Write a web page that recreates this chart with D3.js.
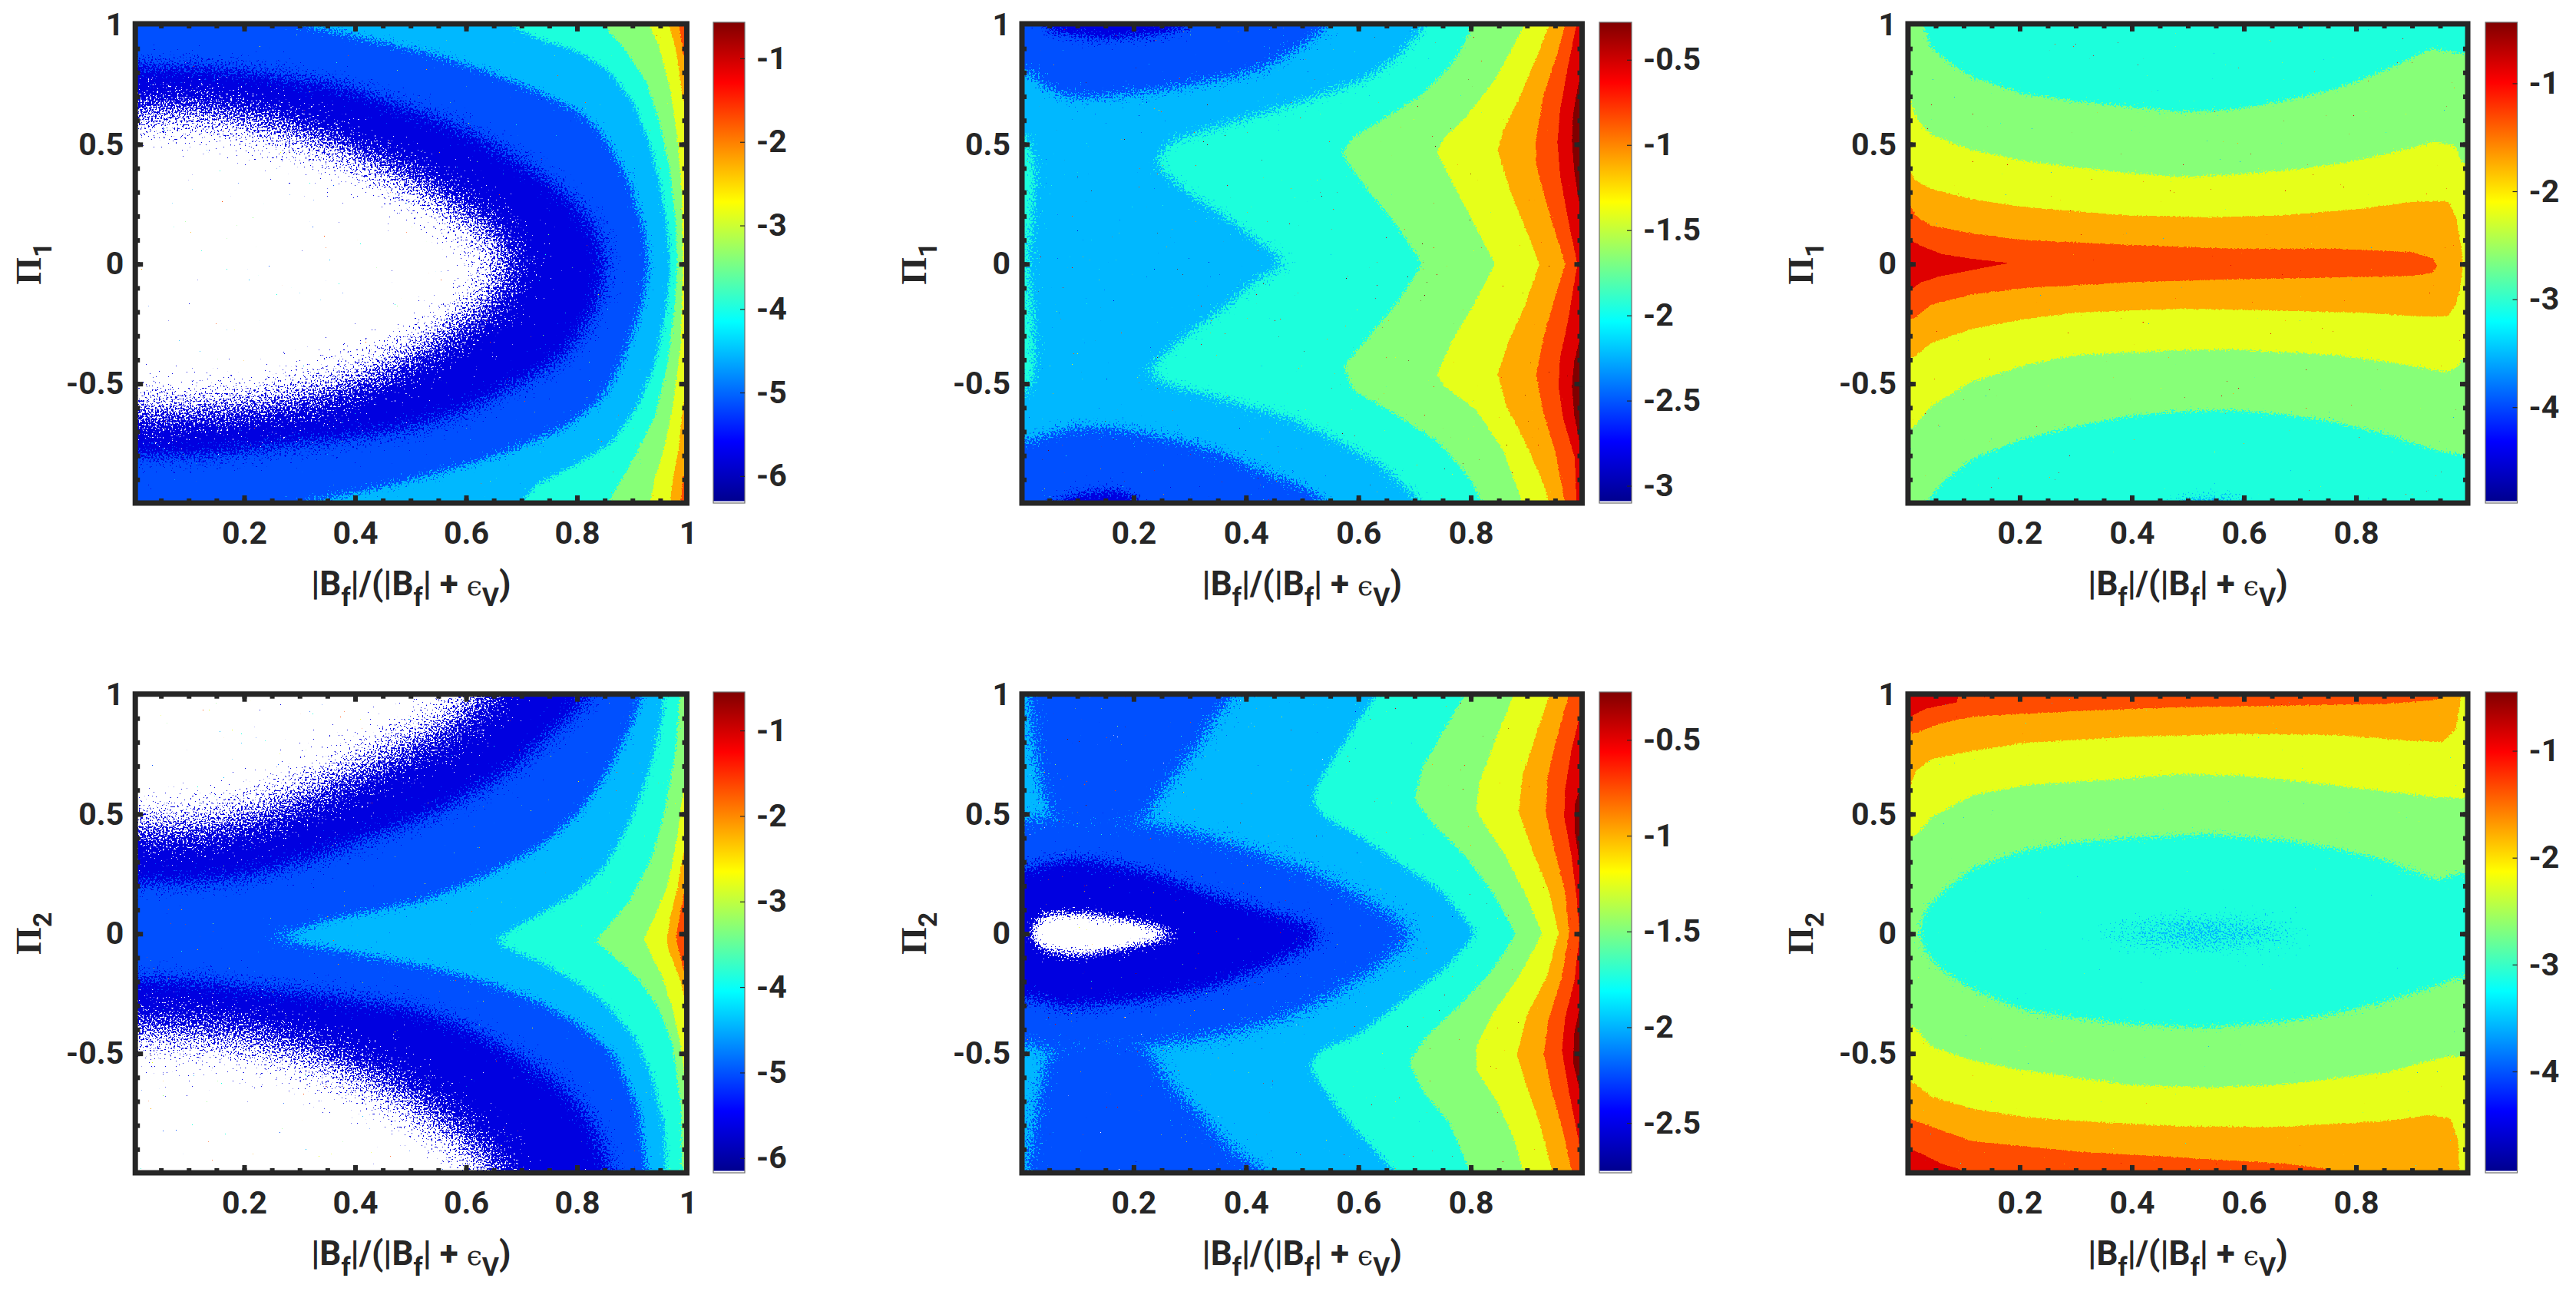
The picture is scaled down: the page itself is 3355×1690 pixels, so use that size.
<!DOCTYPE html>
<html>
<head>
<meta charset="utf-8">
<style>
  html, body { margin:0; background:#fff; }
  svg { display:block; }
  text { font-family:Roboto, "Liberation Sans", sans-serif; font-weight:700; fill:#262626; }
</style>
<script src="https://cdn.jsdelivr.net/npm/d3@7"></script>
</head>
<body>
<svg id="chart" width="3355" height="1690"></svg>
<script>
// --- data: band outlines, as [|Bf|/(|Bf|+eV), Pi] ---------------------------
// "hull" outlines enclose everything to the right of the curve (or around it),
// "blob" outlines are plain closed shapes.
const panelA = [
  {band:'dark', kind:'hull', pts:[[-.1,.63],[.146,.64],[.29,.56],[.39,.47],[.487,.37],[.584,.24],[.66,.11],[.72,0],[.66,-.13],[.584,-.27],[.487,-.41],[.39,-.51],[.29,-.57],[.146,-.61],[-.1,-.64]]},
  {band:'blue', kind:'hull', pts:[[-.1,.85],[.146,.82],[.29,.78],[.39,.74],[.487,.66],[.584,.58],[.68,.46],[.78,.30],[.837,.15],[.856,0],[.837,-.19],[.78,-.39],[.68,-.525],[.584,-.63],[.487,-.695],[.39,-.73],[.29,-.755],[.146,-.80],[-.1,-.82]]},
  {band:'sky', kind:'hull', pts:[[.30,1],[.44,.93],[.535,.88],[.63,.81],[.73,.72],[.81,.63],[.856,.51],[.895,.34],[.92,.15],[.93,0],[.915,-.19],[.885,-.39],[.847,-.56],[.78,-.68],[.68,-.78],[.584,-.85],[.487,-.91],[.39,-.96],[.30,-1]]},
  {band:'teal', kind:'hull', pts:[[.677,1],[.73,.94],[.80,.89],[.856,.81],[.90,.68],[.93,.51],[.949,.34],[.963,.15],[.968,0],[.96,-.2],[.94,-.42],[.91,-.59],[.861,-.75],[.788,-.85],[.73,-.915],[.696,-1]]},
  {band:'green', kind:'hull', pts:[[.847,1],[.885,.90],[.925,.76],[.949,.59],[.968,.39],[.978,.17],[.981,0],[.975,-.2],[.963,-.42],[.94,-.64],[.905,-.80],[.856,-1]]},
  {band:'yellow', kind:'hull', pts:[[.93,1],[.949,.90],[.968,.73],[.981,.53],[.989,.29],[.991,0],[.987,-.34],[.973,-.59],[.958,-.76],[.94,-.9],[.931,-1]]},
  {band:'orange', kind:'hull', pts:[[.965,1],[.978,.9],[.991,.69],[1.03,.5],[1.03,-.4],[.991,-.59],[.984,-.76],[.973,-.9],[.968,-1]]},
  {band:'flame', kind:'hull', pts:[[.984,1],[.991,.88],[1.03,.7],[1.03,-.65],[.991,-.89],[.987,-1]]}
];

const panelB = [
  {band:'blue', kind:'blob', pts:[[.6,1.1],[.55,1],[.503,.915],[.426,.81],[.33,.76],[.234,.72],[.138,.695],[.08,.695],[.042,.737],[.013,.81],[-.1,.85],[-.1,1.1]]},
  {band:'dark', kind:'blob', pts:[[.03,1.1],[.03,1],[.06,.965],[.15,.94],[.25,.96],[.31,1],[.31,1.1]]},
  {band:'blue', kind:'blob', pts:[[-.1,-.81],[.03,-.73],[.08,-.686],[.138,-.68],[.205,-.70],[.28,-.737],[.35,-.78],[.426,-.864],[.503,-.93],[.55,-1],[.6,-1.1],[-.1,-1.1]]},
  {band:'dark', kind:'blob', pts:[[.05,-1.1],[.05,-1],[.1,-.96],[.17,-.94],[.2,-.97],[.22,-1],[.22,-1.1]]},
  {band:'teal', kind:'blob', pts:[[-.1,.6],[.01,.55],[.025,.4],[.02,.2],[.012,0],[.02,-.2],[.025,-.45],[.01,-.55],[-.1,-.6]]},
  {band:'teal', kind:'hull', pts:[[.723,1],[.676,.88],[.618,.78],[.522,.695],[.426,.627],[.33,.56],[.263,.51],[.234,.42],[.30,.29],[.368,.19],[.426,.085],[.484,0],[.426,-.05],[.368,-.17],[.32,-.25],[.272,-.34],[.215,-.46],[.27,-.51],[.378,-.576],[.474,-.64],[.57,-.746],[.647,-.85],[.714,-1]]},
  {band:'green', kind:'hull', pts:[[.805,1],[.772,.85],[.714,.71],[.647,.61],[.589,.525],[.57,.46],[.618,.305],[.666,.17],[.714,0],[.666,-.17],[.618,-.305],[.575,-.424],[.589,-.525],[.666,-.627],[.743,-.746],[.80,-.9],[.82,-1]]},
  {band:'yellow', kind:'hull', pts:[[.896,1],[.877,.915],[.84,.76],[.79,.61],[.752,.525],[.74,.466],[.772,.32],[.81,.15],[.843,0],[.805,-.17],[.767,-.32],[.74,-.46],[.752,-.51],[.81,-.61],[.858,-.78],[.892,-1]]},
  {band:'orange', kind:'hull', pts:[[.94,1],[.92,.88],[.887,.695],[.858,.56],[.848,.475],[.868,.32],[.897,.15],[.922,0],[.897,-.17],[.868,-.32],[.848,-.46],[.863,-.59],[.897,-.746],[.925,-.89],[.94,-1]]},
  {band:'flame', kind:'hull', pts:[[.968,1],[.954,.88],[.93,.71],[.916,.525],[.916,.42],[.93,.29],[.95,.135],[.968,0],[.95,-.135],[.93,-.305],[.916,-.46],[.93,-.627],[.95,-.78],[.968,-1]]},
  {band:'red', kind:'hull', pts:[[.988,1],[.973,.83],[.959,.644],[.954,.51],[.959,.37],[.973,.186],[.988,.017],[.99,0],[.988,-.02],[.973,-.237],[.959,-.39],[.956,-.51],[.964,-.64],[.985,-.81],[.988,-1]]},
  {band:'maroon', kind:'blob', pts:[[1.03,.8],[.992,.76],[.982,.627],[.98,.51],[.984,.39],[.995,.22],[1.03,.1],[1.03,-.15],[.995,-.305],[.984,-.407],[.98,-.51],[.984,-.63],[.995,-.76],[1.03,-.85]]}
];

const panelC = [
  {band:'green', kind:'blob', pts:[[-.1,1.1],[.028,1.1],[.028,1],[.042,.9],[.07,.85],[.116,.78],[.208,.71],[.30,.68],[.485,.635],[.577,.644],[.669,.68],[.761,.73],[.853,.81],[.936,.90],[.982,.88],[1.05,.88],[1.05,-.8],[.987,-.797],[.945,-.78],[.853,-.71],[.761,-.66],[.669,-.627],[.577,-.61],[.485,-.614],[.393,-.636],[.30,-.678],[.208,-.729],[.116,-.814],[.06,-.915],[.033,-1],[.028,-1.1],[-.1,-1.1]]},
  {band:'yellow', kind:'blob', pts:[[-.1,.72],[.004,.695],[.015,.61],[.042,.54],[.116,.475],[.208,.43],[.393,.38],[.485,.364],[.577,.373],[.669,.39],[.761,.415],[.853,.458],[.945,.514],[.978,.49],[.99,.42],[1.05,.4],[1.05,-.4],[.99,-.39],[.982,-.43],[.96,-.45],[.853,-.407],[.761,-.38],[.577,-.356],[.485,-.36],[.30,-.38],[.208,-.424],[.116,-.49],[.042,-.593],[.01,-.686],[-.1,-.72]]},
  {band:'orange', kind:'blob', pts:[[-.1,.42],[.004,.39],[.015,.347],[.042,.314],[.116,.27],[.208,.237],[.393,.203],[.53,.195],[.669,.203],[.807,.23],[.90,.26],[.964,.263],[.978,.2],[.987,.085],[.991,0],[.987,-.085],[.978,-.17],[.964,-.217],[.927,-.22],[.807,-.203],[.577,-.19],[.485,-.187],[.30,-.203],[.208,-.23],[.116,-.27],[.042,-.33],[.01,-.39],[-.1,-.42]]},
  {band:'flame', kind:'blob', pts:[[-.1,.26],[.004,.246],[.015,.2],[.042,.16],[.116,.127],[.208,.10],[.393,.08],[.577,.064],[.761,.064],[.899,.05],[.936,.025],[.945,-.008],[.936,-.037],[.899,-.05],[.761,-.056],[.577,-.064],[.393,-.076],[.208,-.10],[.116,-.127],[.042,-.17],[.01,-.23],[-.1,-.25]]},
  {band:'red', kind:'blob', pts:[[-.1,.11],[.004,.10],[.024,.076],[.06,.042],[.116,.022],[.18,.004],[.116,-.025],[.06,-.05],[.024,-.076],[.01,-.10],[-.1,-.11]]},
  {band:'sky', kind:'blob', pts:[[.47,-1.1],[.47,-.99],[.56,-.98],[.6,-.99],[.6,-1.1]]}
];

const panelD = [
  {band:'dark', kind:'blob', pts:[[-.1,.42],[.146,.44],[.244,.51],[.34,.61],[.438,.71],[.535,.83],[.613,.93],[.662,1.03],[.68,1.1],[1.1,1.1],[1.1,-1.1],[.70,-1.1],[.672,-1],[.584,-.82],[.487,-.67],[.39,-.554],[.29,-.47],[.195,-.427],[.098,-.40],[-.1,-.39]]},
  {band:'blue', kind:'blob', pts:[[-.1,.19],[.146,.215],[.244,.257],[.34,.324],[.438,.41],[.535,.49],[.633,.61],[.70,.71],[.76,.85],[.803,.93],[.837,1.03],[.85,1.1],[1.1,1.1],[1.1,-1.1],[.87,-1.1],[.861,-.98],[.837,-.81],[.78,-.64],[.68,-.486],[.584,-.368],[.487,-.30],[.39,-.267],[.29,-.24],[.195,-.216],[.098,-.19],[-.1,-.174]]},
  {band:'sky', kind:'blob', pts:[[.22,0],[.29,.012],[.36,.0625],[.438,.096],[.535,.147],[.633,.24],[.73,.358],[.80,.493],[.847,.645],[.886,.81],[.915,.966],[.92,1.1],[1.1,1.1],[1.1,-1.1],[.925,-1.1],[.925,-.98],[.91,-.72],[.866,-.50],[.808,-.385],[.73,-.284],[.633,-.2],[.535,-.14],[.438,-.098],[.36,-.064],[.29,-.04]]},
  {band:'teal', kind:'blob', pts:[[.647,-.03],[.68,.012],[.73,.08],[.788,.155],[.847,.27],[.886,.426],[.915,.578],[.94,.764],[.954,.915],[.96,1.1],[1.1,1.1],[1.1,-1.1],[.964,-1.1],[.958,-.81],[.934,-.588],[.905,-.436],[.856,-.30],[.798,-.2],[.73,-.115],[.68,-.064]]},
  {band:'green', kind:'blob', pts:[[.832,-.034],[.856,.03],[.895,.14],[.934,.31],[.958,.51],[.978,.764],[.985,.98],[.985,1.1],[1.1,1.1],[1.1,-1.1],[.994,-1.1],[.987,-.72],[.973,-.47],[.949,-.32],[.915,-.2],[.876,-.115],[.852,-.064]]},
  {band:'yellow', kind:'blob', pts:[[.92,-.02],[.94,.07],[.964,.206],[.981,.41],[.991,.595],[1.03,.8],[1.03,-.8],[.997,-.64],[.987,-.47],[.973,-.32],[.954,-.18],[.934,-.09]]},
  {band:'orange', kind:'blob', pts:[[.962,-.03],[.968,.07],[.981,.19],[.992,.34],[1.03,.5],[1.03,-.45],[.997,-.3],[.987,-.2],[.973,-.115],[.964,-.064]]},
  {band:'flame', kind:'blob', pts:[[.978,-.014],[.985,.07],[.994,.19],[1.03,.3],[1.03,-.3],[.994,-.165],[.985,-.08]]}
];

const panelE = [
  {band:'blue', kind:'blob', pts:[[-.1,.5],[.004,.476],[.042,.49],[.138,.485],[.234,.46],[.33,.41],[.426,.34],[.522,.257],[.618,.14],[.676,.054],[.714,0],[.676,-.064],[.618,-.165],[.522,-.30],[.426,-.385],[.33,-.436],[.234,-.47],[.138,-.495],[.042,-.495],[.004,-.453],[-.1,-.45]]},
  {band:'blue', kind:'blob', pts:[[.015,1.1],[.42,1.1],[.388,1],[.35,.93],[.32,.80],[.272,.66],[.234,.54],[.22,.44],[.06,.44],[.042,.54],[.028,.71],[.013,.966]]},
  {band:'blue', kind:'blob', pts:[[.01,-1.1],[.47,-1.1],[.445,-1],[.378,-.91],[.32,-.757],[.263,-.62],[.215,-.44],[.06,-.44],[.042,-.537],[.028,-.72],[.01,-.96]]},
  {band:'dark', kind:'blob', pts:[[-.1,.2],[.013,.27],[.07,.316],[.138,.307],[.234,.257],[.33,.172],[.426,.105],[.522,.037],[.556,0],[.522,-.047],[.426,-.149],[.33,-.233],[.234,-.275],[.138,-.30],[.07,-.31],[.013,-.267],[-.1,-.22]]},
  {band:'white', kind:'blob', pts:[[.018,.037],[.042,.08],[.10,.088],[.157,.07],[.215,.045],[.272,.012],[.287,-.005],[.215,-.047],[.157,-.073],[.10,-.09],[.042,-.073],[.018,-.03]]},
  {band:'teal', kind:'hull', pts:[[.632,1],[.589,.85],[.56,.747],[.532,.645],[.517,.56],[.54,.485],[.60,.41],[.676,.29],[.752,.17],[.81,0],[.752,-.149],[.676,-.284],[.60,-.42],[.532,-.486],[.512,-.554],[.54,-.655],[.578,-.774],[.618,-.875],[.666,-1]]},
  {band:'green', kind:'hull', pts:[[.79,1],[.752,.85],[.714,.696],[.70,.56],[.733,.46],[.79,.324],[.839,.172],[.88,0],[.839,-.149],[.78,-.30],[.724,-.42],[.69,-.537],[.714,-.655],[.762,-.79],[.80,-1]]},
  {band:'yellow', kind:'hull', pts:[[.877,1],[.839,.78],[.815,.63],[.81,.51],[.858,.34],[.896,.172],[.927,0],[.885,-.18],[.839,-.334],[.81,-.47],[.81,-.57],[.848,-.706],[.877,-.858],[.894,-1]]},
  {band:'orange', kind:'hull', pts:[[.94,1],[.916,.83],[.892,.66],[.885,.51],[.911,.34],[.94,.172],[.956,0],[.935,-.18],[.901,-.334],[.882,-.503],[.897,-.62],[.92,-.774],[.946,-1]]},
  {band:'flame', kind:'hull', pts:[[.975,1],[.954,.83],[.937,.66],[.933,.51],[.95,.34],[.968,.172],[.975,0],[.962,-.18],[.937,-.37],[.93,-.503],[.944,-.655],[.964,-.824],[.98,-1]]},
  {band:'red', kind:'hull', pts:[[1.03,1],[.994,.915],[.979,.764],[.968,.61],[.966,.49],[.979,.324],[.988,.155],[.994,0],[.984,-.2],[.968,-.35],[.962,-.486],[.973,-.64],[.987,-.807],[.994,-.89],[1.03,-1]]},
  {band:'maroon', kind:'blob', pts:[[1.03,.7],[.997,.63],[.985,.54],[.985,.425],[.997,.24],[1.03,.15],[1.03,-.2],[.997,-.267],[.984,-.42],[.982,-.537],[.997,-.69],[1.03,-.75]]}
];

const panelF = [
  {band:'red', kind:'blob', pts:[[-.1,1.1],[.135,1.1],[.088,.966],[.033,.94],[.005,.907],[-.1,.89]]},
  {band:'red', kind:'blob', pts:[[-.1,-.86],[.004,-.90],[.024,-.917],[.06,-.96],[.093,-.983],[.1,-1.1],[-.1,-1.1]]},
  {band:'orange', kind:'blob', pts:[[-.1,.806],[.015,.84],[.06,.88],[.116,.907],[.30,.93],[.485,.946],[.669,.953],[.853,.96],[.936,.975],[.955,.986],[.965,1.1],[1.1,1.1],[1.1,-1.1],[.76,-1.1],[.752,-.983],[.669,-.96],[.485,-.934],[.30,-.909],[.116,-.867],[.06,-.82],[.005,-.774],[-.1,-.74]]},
  {band:'yellow', kind:'blob', pts:[[-.1,.6],[.004,.61],[.015,.68],[.042,.73],[.116,.764],[.208,.797],[.393,.823],[.577,.834],[.761,.831],[.90,.806],[.955,.80],[.978,.856],[.987,.983],[.99,1.1],[1.1,1.1],[1.1,-1.1],[.985,-1.1],[.984,-.976],[.982,-.858],[.969,-.774],[.936,-.757],[.853,-.782],[.669,-.807],[.485,-.804],[.30,-.782],[.208,-.765],[.116,-.731],[.042,-.68],[.01,-.62],[-.1,-.6]]},
  {band:'green', kind:'blob', pts:[[-.1,.38],[.015,.409],[.042,.485],[.116,.578],[.208,.62],[.393,.649],[.485,.666],[.577,.662],[.669,.645],[.761,.62],[.853,.595],[.945,.57],[1.05,.56],[1.05,-.52],[.964,-.512],[.853,-.579],[.669,-.63],[.53,-.642],[.393,-.63],[.208,-.571],[.116,-.529],[.042,-.47],[.01,-.385],[-.1,-.31]]},
  {band:'teal', kind:'blob', pts:[[.02,0],[.033,.105],[.06,.172],[.116,.274],[.208,.35],[.30,.383],[.393,.40],[.53,.417],[.669,.392],[.761,.358],[.853,.307],[.945,.223],[.987,.257],[1.05,.24],[1.05,-.2],[.987,-.18],[.945,-.216],[.853,-.284],[.761,-.334],[.669,-.368],[.53,-.394],[.393,-.377],[.30,-.351],[.208,-.318],[.116,-.233],[.06,-.149],[.033,-.081]]},
  {band:'sky', kind:'blob', pts:[[.30,0],[.40,.03],[.53,.05],[.66,.03],[.74,0],[.66,-.03],[.53,-.04],[.40,-.03]]}
];

const panelRows = [[panelA, panelB, panelC], [panelD, panelE, panelF]];

// colorbar limits and tick values per panel
const barLimits = [[[-6.30,-.568],[-3.09,-.28],[-4.87,-.435]], [[-6.15,-.55],[-2.75,-.25],[-4.93,-.45]]];
const barTicks = [
  [[-6,-5,-4,-3,-2,-1],[-3,-2.5,-2,-1.5,-1,-.5],[-4,-3,-2,-1]],
  [[-6,-5,-4,-3,-2,-1],[-2.5,-2,-1.5,-1,-.5],[-4,-3,-2,-1]]
];
const baseBand = [['white','sky','teal'], ['white','sky','flame']];
const rowNames = ['1','2'];
const xMajor = [[.2,.4,.6,.8,1],[.2,.4,.6,.8],[.2,.4,.6,.8]];
const yMajor = [1,.5,0,-.5];

// --- styling ----------------------------------------------------------------
const bandColor = {
  white:'#ffffff', dark:'#0000e0', blue:'#0050ff', sky:'#00b8ff', teal:'#1cffdc', green:'#87ff78',
  yellow:'#e6ff1a', orange:'#ffaa00', flame:'#ff4c00', red:'#df0000', maroon:'#800000'
};
// how far the speckle of a band's edge reaches, in px of blur
const bandEdge = { white:10, dark:16, blue:14, sky:7, teal:5, green:2.5, yellow:1.6, orange:1, flame:.8, red:.7, maroon:.6 };
// same, where a panel differs: [row][col] -> band -> blur
const edgeOverride = [
  [ {dark:45, blue:22, sky:10, teal:6}, {blue:14, dark:12, teal:12, green:4}, {green:5, yellow:3, sky:14} ],
  [ {dark:48, blue:22, sky:10, teal:7, green:3}, {blue:18, dark:16, white:10, teal:7, green:3}, {green:3, teal:7, sky:20} ]
];
const jetStops = [[0,'#00008f'],[.125,'#0000ff'],[.375,'#00ffff'],[.625,'#ffff00'],[.875,'#ff0000'],[1,'#800000']];

const colX = [ {zero:173.5, one:896, left:176.2, right:894.5, bar:929, barEnd:970, yLab:53},
               {zero:1330, one:2062, left:1331, right:2060.5, bar:2083, barEnd:2125, yLab:1206},
               {zero:2484.5, one:3214.5, left:2485, right:3214, bar:3237, barEnd:3278.5, yLab:2361} ];
const rowY = [ {one:32, minusOne:655.5, top:31, bottom:655, barTop:29, barBottom:655},
               {one:904, minusOne:1527.5, top:903.7, bottom:1527, barTop:901, barBottom:1527} ];
const INK = '#262626', FONT = 41;

const svg = d3.select('#chart');
const defs = svg.append('defs');

const grad = defs.append('linearGradient').attr('id','jet').attr('x1',0).attr('x2',0).attr('y1',1).attr('y2',0);
grad.selectAll('stop').data(jetStops).join('stop')
  .attr('offset', d=>d[0]).attr('stop-color', d=>d[1]);

// hull outlines: close round the right side, and round the left corners if the curve starts/ends there
function hull(pts){
  const out = pts.slice();
  const a = pts[0], b = pts[pts.length-1];
  if (a[1] >= 1) out.unshift([a[0], 1.1]);
  if (b[1] <= -1) out.push([b[0], -1.1]);
  if (b[0] < 0) out.push([-.1,-1.1]);
  out.push([1.1,-1.1],[1.1,1.1]);
  if (a[0] < 0) out.push([-.1,1.1]);
  return out;
}
// outlines run well past the frame so the blur never fades at the frame itself
const pastFrame = d => [d[0]<=-.1 ? -.35 : d[0]>=1.1 ? 1.35 : d[0], d[1]>=1.1 ? 1.6 : d[1]<=-1.1 ? -1.6 : d[1]];

// speckled edge: blurred alpha + turbulence, cut at a threshold
let filterNo = 0;
function edgeFilter(color, blur, box){
  const id = 'edge' + (++filterNo);
  const f = defs.append('filter').attr('id',id)
    .attr('filterUnits','userSpaceOnUse')
    .attr('x',box.x).attr('y',box.y).attr('width',box.w).attr('height',box.h)
    .attr('color-interpolation-filters','sRGB');
  f.append('feGaussianBlur').attr('in','SourceAlpha').attr('stdDeviation',blur).attr('result','soft');
  f.append('feTurbulence').attr('type','fractalNoise').attr('baseFrequency',.42).attr('numOctaves',2)
    .attr('seed',filterNo*7+3).attr('result','noise');
  f.append('feComposite').attr('in','soft').attr('in2','noise').attr('operator','arithmetic')
    .attr('k1',0).attr('k2',1).attr('k3',1.3).attr('k4',-.65).attr('result','sum');
  const cut = f.append('feComponentTransfer').attr('in','sum').attr('result','mask');
  cut.append('feFuncA').attr('type','linear').attr('slope',40).attr('intercept',-19.5);
  f.append('feFlood').attr('flood-color',color).attr('result','ink');
  f.append('feComposite').attr('in','ink').attr('in2','mask').attr('operator','in');
  return `url(#${id})`;
}

function drawPanel(r, c){
  const col = colX[c], row = rowY[r];
  const x = d3.scaleLinear().domain([0,1]).range([col.zero, col.one]);
  const y = d3.scaleLinear().domain([1,-1]).range([row.one, row.minusOne]);
  const clipId = `clip${r}${c}`;
  const W = col.right - col.left, H = row.bottom - row.top;

  defs.append('clipPath').attr('id',clipId).append('rect')
    .attr('x',col.left).attr('y',row.top).attr('width',W).attr('height',H);

  const g = svg.append('g');
  const field = g.append('g').attr('clip-path',`url(#${clipId})`);
  field.append('rect').attr('x',col.left).attr('y',row.top).attr('width',W).attr('height',H)
    .attr('fill',bandColor[baseBand[r][c]]);

  const line = d3.line().x(d=>x(d[0])).y(d=>y(d[1]));
  const box = {x:col.left-260, y:row.top-200, w:W+520, h:H+400};
  panelRows[r][c].forEach(layer=>{
    const pts = (layer.kind === 'hull' ? hull(layer.pts) : layer.pts).map(pastFrame);
    const blur = edgeOverride[r][c][layer.band] || bandEdge[layer.band];
    field.append('path')
      .attr('d', line(pts) + 'Z')
      .attr('fill', bandColor[layer.band])
      .attr('filter', edgeFilter(bandColor[layer.band], blur, box));
  });

  // frame, thick ticks pointing inwards
  g.append('rect').attr('x',col.left).attr('y',row.top).attr('width',W).attr('height',H)
    .attr('fill','none').attr('stroke',INK).attr('stroke-width',7);

  const xMinor = d3.range(1,20).map(i=>i/20), yMinor = d3.range(-9,10).map(i=>i/10);
  const ticks = (axis, tx, ty, vals, len) => {
    const t = g.append('g').attr('transform',`translate(${tx},${ty})`)
      .call(axis.tickValues(vals).tickSize(-len).tickFormat(''));
    t.select('.domain').remove();
    t.selectAll('line').attr('stroke',INK).attr('stroke-width',6);
  };
  const xTicks = xMajor[c].filter(v=>v<1);
  ticks(d3.axisBottom(x), 0, row.bottom, xMinor, 6);
  ticks(d3.axisBottom(x), 0, row.bottom, xTicks, 10);
  ticks(d3.axisTop(x), 0, row.top, xMinor, 6);
  ticks(d3.axisTop(x), 0, row.top, xTicks, 10);
  ticks(d3.axisLeft(y), col.left, 0, yMinor, 6);
  ticks(d3.axisLeft(y), col.left, 0, yMajor.filter(v=>v<1), 10);
  ticks(d3.axisRight(y), col.right, 0, yMinor, 6);
  ticks(d3.axisRight(y), col.right, 0, yMajor.filter(v=>v<1), 10);

  // labels
  const fmt = d=>String(d);
  const xLab = g.append('g').attr('transform',`translate(0,${row.bottom})`)
    .call(d3.axisBottom(x).tickValues(xMajor[c]).tickSize(0).tickPadding(24).tickFormat(fmt));
  xLab.select('.domain').remove();
  xLab.selectAll('text').style('font-size',FONT+'px');

  const yLab = g.append('g').attr('transform',`translate(${col.left},0)`)
    .call(d3.axisLeft(y).tickValues(yMajor).tickSize(0).tickPadding(15).tickFormat(fmt));
  yLab.select('.domain').remove();
  yLab.selectAll('text').style('font-size',FONT+'px');

  const xTitle = g.append('text').attr('x',(col.left+col.right)/2).attr('y',row.bottom+120)
    .attr('text-anchor','middle').style('font-size','44px');
  const run = (s, opt={}) => {
    const t = xTitle.append('tspan').text(s);
    if (opt.dy) t.attr('dy',opt.dy);
    if (opt.size) t.style('font-size',opt.size+'px');
    if (opt.serif) t.style('font-family','"DejaVu Serif", serif').style('font-weight',400);
  };
  run('|B'); run('f',{dy:14,size:34}); run('|/(|B',{dy:-14}); run('f',{dy:14,size:34}); run('| + ',{dy:-14});
  run('\u03F5',{serif:true,size:36}); run('V',{dy:14,size:34}); run(')',{dy:-14});

  const yTitle = g.append('text')
    .attr('transform',`translate(${col.yLab},${(row.top+row.bottom)/2}) rotate(-90)`)
    .attr('text-anchor','middle');
  yTitle.append('tspan').text('\u03A0').style('font-family','"Liberation Serif", serif').style('font-size','46px');
  yTitle.append('tspan').text(rowNames[r]).attr('dy',14).style('font-size','34px');

  // colorbar
  const bar = barLimits[r][c];
  const cb = d3.scaleLinear().domain(bar).range([row.barBottom-2.5, row.barTop]);
  g.append('rect').attr('x',col.bar).attr('y',row.barTop).attr('width',col.barEnd-col.bar)
    .attr('height',row.barBottom-row.barTop-2.5).attr('fill','url(#jet)');
  g.append('rect').attr('x',col.bar).attr('y',row.barTop).attr('width',col.barEnd-col.bar)
    .attr('height',row.barBottom-row.barTop).attr('fill','none').attr('stroke','#6e6e6e').attr('stroke-width',1.2);
  const cbAxis = g.append('g').attr('transform',`translate(${col.barEnd},0)`)
    .call(d3.axisRight(cb).tickValues(barTicks[r][c]).tickSize(-6).tickPadding(15).tickFormat(fmt));
  cbAxis.select('.domain').remove();
  cbAxis.selectAll('line').attr('stroke',INK).attr('stroke-width',1.2);
  cbAxis.selectAll('text').style('font-size',FONT+'px');
}

panelRows.forEach((row,r)=>row.forEach((_,c)=>drawPanel(r,c)));
</script>
</body>
</html>
